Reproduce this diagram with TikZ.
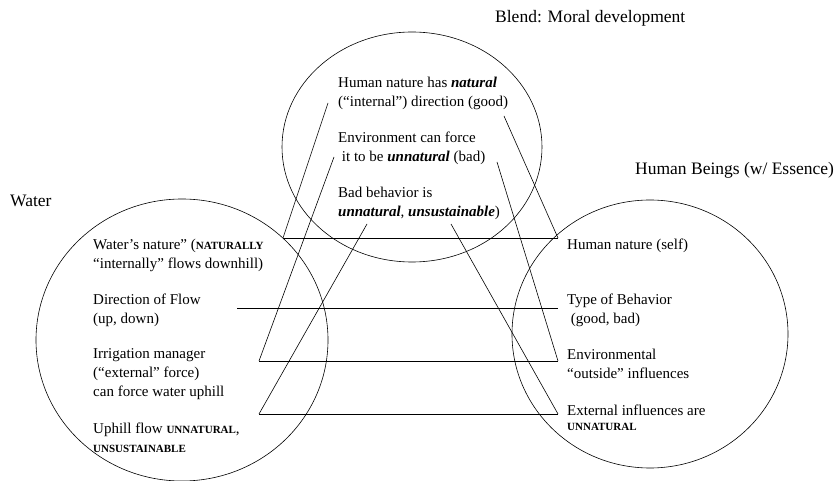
\documentclass[tikz,border=0pt]{standalone}
\usepackage{fontspec}
\setmainfont{Liberation Serif}
\usetikzlibrary{shapes.geometric}
\newcommand{\bsc}[1]{{\fontsize{11}{13}\selectfont\bfseries #1}}
\newcommand{\bital}[1]{\textbf{\textit{#1}}}
\tikzset{
  % multi-line nodes: anchor is the baseline of the last line
  txt/.style={anchor=base west, inner sep=0pt, align=left, font=\fontsize{15}{19}\selectfont},
  ttl/.style={anchor=base west, inner sep=0pt, font=\fontsize{17.5}{21}\selectfont},
  ring/.style={draw, ellipse, inner sep=0pt, line width=0.6pt},
  link/.style={line width=0.6pt}
}
\begin{document}
\begin{tikzpicture}[x=1pt,y=-1pt]
\useasboundingbox (0,0) rectangle (839,481);
% circles
\node[ring, minimum width=260pt, minimum height=230pt] (blendc) at (412,147) {};
\node[ring, minimum width=292pt, minimum height=282pt] (waterc) at (182,340) {};
\node[ring, minimum width=276pt, minimum height=268pt] (humanc) at (650,334) {};
% titles
\node[ttl] (tblend) at (495,23) {Blend: Moral development};
\node[ttl] (thuman) at (635,175) {Human Beings (w/ Essence)};
\node[ttl] (twater) at (10,207) {Water};
% blend texts
\node[txt] (b1) at (338,107) {Human nature has \bital{natural}\\(``internal'') direction (good)};
\node[txt] (b2) at (338,162) {Environment can force\\\ it to be \bital{unnatural} (bad)};
\node[txt] (b3) at (338,217) {Bad behavior is\\\bital{unnatural}, \bital{unsustainable})};
% water texts
\node[txt] (w1) at (93,269) {Water's nature'' (\bsc{NATURALLY}\\``internally'' flows downhill)};
\node[txt] (w2) at (93,324) {Direction of Flow\\(up, down)};
\node[txt] (w3) at (93,396) {Irrigation manager\\(``external'' force)\\can force water uphill};
\node[txt] (w4) at (93,452) {Uphill flow \bsc{UNNATURAL},\\\bsc{UNSUSTAINABLE}};
% human texts
\node[txt] (h1) at (567,250) {Human nature (self)};
\node[txt] (h2) at (567,324) {Type of Behavior\\\ (good, bad)};
\node[txt] (h3) at (567,378) {Environmental\\``outside'' influences};
\node[txt] (h4) at (567,430) {External influences are\\[-4pt]\bsc{UNNATURAL}};
% connector ends
\coordinate (wl1) at (283,238);
\coordinate (wl2) at (237,308);
\coordinate (wl3) at (259,361);
\coordinate (wl4) at (259,414);
\coordinate (hr1) at (558,238);
\coordinate (hr2) at (558,308);
\coordinate (hr3) at (558,361);
\coordinate (hr4) at (558,414);
\coordinate (bl1) at (328,103);
\coordinate (bl2) at (334,157);
\coordinate (bl3) at (367,224);
\coordinate (br1) at (504,116);
\coordinate (br2) at (497,162);
\coordinate (br3) at (451,224);
% horizontal mappings
\draw[link] (wl1) -- (hr1);
\draw[link] (wl2) -- (hr2);
\draw[link] (wl3) -- (hr3);
\draw[link] (wl4) -- (hr4);
% projections to the blend
\draw[link] (bl1) -- (wl1);
\draw[link] (bl2) -- (wl3);
\draw[link] (bl3) -- (wl4);
\draw[link] (br1) -- (hr1);
\draw[link] (br2) -- (hr3);
\draw[link] (br3) -- (hr4);
\end{tikzpicture}
\end{document}
